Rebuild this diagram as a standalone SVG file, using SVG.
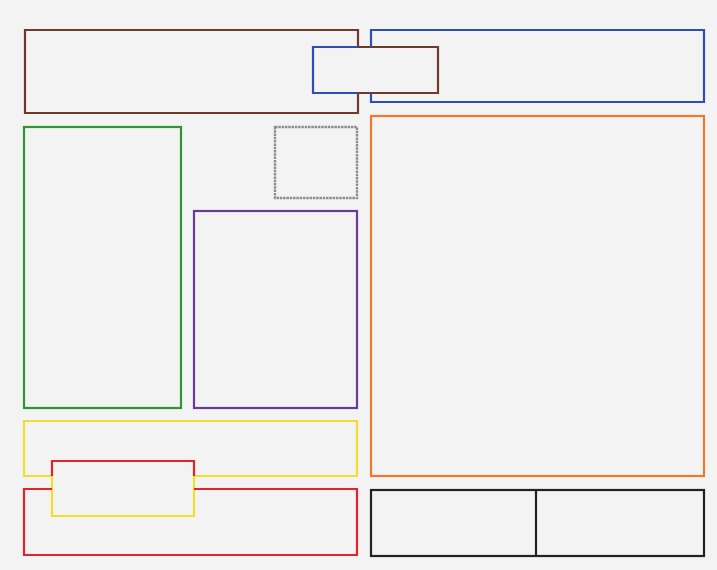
<svg xmlns="http://www.w3.org/2000/svg" width="717" height="570" viewBox="0 0 717 570">
<style>
.b{fill:none;stroke-width:2.2;stroke-linejoin:miter}
.brown{stroke:#6e3b2b}
.blue{stroke:#2b4fb3}
.green{stroke:#2d962e}
.purple{stroke:#6a3c98}
.orange{stroke:#ee7a30}
.yellow{stroke:#f0de2e}
.red{stroke:#e2232a}
.gray{stroke:#8e8e8e;stroke-width:2.4;stroke-dasharray:2.5 0.8}
.black{stroke:#222222}
</style>
<rect x="0" y="0" width="717" height="570" fill="#f3f3f4"/>
<g id="brown-box"><path class="b brown" d="M358,93 V113 H25 V30 H358 V47 H438 V93 Z"/></g>
<g id="blue-box"><path class="b blue" d="M358,47 H313 V93 H358 M371,47 V30 H704 V102 H371 V93"/></g>
<g id="green-box"><rect class="b green" x="24" y="127" width="157" height="281"/></g>
<g id="gray-box"><rect class="b gray" x="275" y="127" width="82" height="71"/></g>
<g id="purple-box"><rect class="b purple" x="194" y="211" width="163" height="197"/></g>
<g id="orange-box"><rect class="b orange" x="371" y="116" width="333" height="360"/></g>
<g id="yellow-box"><path class="b yellow" d="M194,476 H357 V421 H24 V476 H52 V516 H194 Z"/></g>
<g id="red-box"><path class="b red" d="M52,476 V461 H194 V476 M52,489 H24 V555 H357 V489 H194"/></g>
<g id="black-box"><rect class="b black" x="371" y="490" width="333" height="66"/><line class="b black" x1="536" y1="490" x2="536" y2="556"/></g>
</svg>
